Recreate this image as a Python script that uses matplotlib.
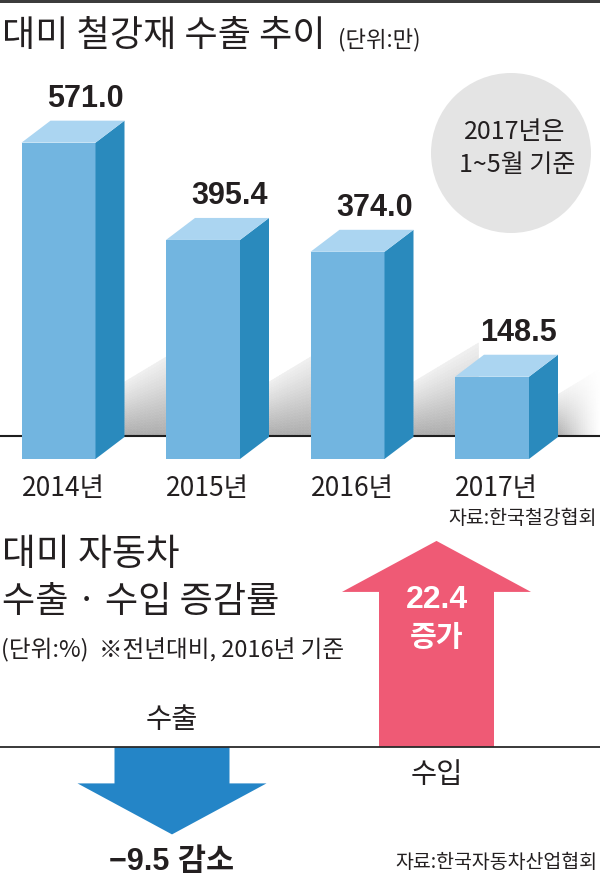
import numpy as np
import matplotlib
matplotlib.use("Agg")
import matplotlib.pyplot as plt
from matplotlib.patches import Polygon, Ellipse, Rectangle
from matplotlib.collections import PolyCollection

# 대미 철강재 수출 추이 (단위: 만 t)
years = ["2014년", "2015년", "2016년", "2017년"]
steel_exports = [571.0, 395.4, 374.0, 148.5]

# 대미 자동차 수출·수입 증감률 (단위: %)
car_labels = ["수출", "수입"]
car_changes = [-9.5, 22.4]
car_words = ["감소", "증가"]

W, H = 600, 883
KR = ["Noto Sans CJK KR", "DejaVu Sans"]
NUM = ["Liberation Sans", "Noto Sans CJK KR", "DejaVu Sans"]
INK = "#231f20"
FRONT, SIDE, TOP = "#72b5e0", "#2a8abd", "#abd5f1"
PINK, BLUE = "#ef5a75", "#2485c7"


def fx(px):
    return px / W


def fy(py):
    return 1 - py / H


def shadow(ax, sx, base, sh, sw, slope, fade):
    # soft grey floor shadow made of small quads (darker near the floor)
    ncol, nrow = 24, 24
    xs = np.linspace(sx, sx + sw, ncol + 1)
    rs = np.linspace(0, 1, nrow + 1)
    quads, cols = [], []
    for j in range(ncol):
        a, b = xs[j], xs[j + 1]
        ta = base + sh + (a - sx) * slope
        tb = base + sh + (b - sx) * slope
        u = (j + 0.5) / ncol
        for k in range(nrow):
            r0, r1 = rs[k], rs[k + 1]
            quads.append([(a, base + r0 * (ta - base)), (b, base + r0 * (tb - base)),
                          (b, base + r1 * (tb - base)), (a, base + r1 * (ta - base))])
            dark = 0.27 * (1 - (k + 0.5) / nrow) ** 1.1 + 0.06
            if fade:
                dark *= (1 - u) ** 1.3
            g = 1 - dark
            cols.append((g, g, g))
    pc = PolyCollection(quads, facecolors=cols, edgecolors=cols, linewidths=0.4,
                        zorder=1)
    ax.add_collection(pc)


def main():
    fig = plt.figure(figsize=(W / 100, H / 100), dpi=100)
    fig.patch.set_facecolor("white")

    # top border
    fig.add_artist(Rectangle((0, fy(3)), 1, 3 / H, transform=fig.transFigure,
                             color="#3c3c3c", lw=0))

    # ---------------- steel chart ----------------
    ax = fig.add_axes([0, 0, 1, 1])
    ax.axis("off")
    ky = 0.554          # px per 만 t
    zero_px = 459       # pixel row of value 0
    xstep, x0 = 144.5, 58.5

    w = 74 / xstep
    dx = 29 / xstep
    dy = 22 / ky
    base = (zero_px - 436) / ky
    slope = 0.6 * xstep / ky
    last = len(steel_exports) - 1

    for i, v in enumerate(steel_exports):
        xl, xr = i - w / 2, i + w / 2
        sh = min(54 / ky, 0.7 * (v - base))
        shadow(ax, xr + dx, base, sh, 0.45 if i < last else 0.3, slope, i == last)

        # box faces
        ax.add_patch(Polygon([(xl, 0), (xr, 0), (xr, v), (xl, v)], closed=True,
                             fc=FRONT, ec="none", zorder=3))
        ax.add_patch(Polygon([(xr, 0), (xr + dx, dy), (xr + dx, v + dy), (xr, v)],
                             closed=True, fc=SIDE, ec="none", zorder=3))
        ax.add_patch(Polygon([(xl, v), (xl + dx, v + dy), (xr + dx, v + dy), (xr, v)],
                             closed=True, fc=TOP, ec="none", zorder=3))

        ax.text(i + 27 / xstep, v + dy + 14 / ky, f"{v:.1f}", ha="center",
                va="baseline", fontsize=22, fontweight="bold", family=NUM,
                color=INK, zorder=5)
        ax.text(xl, -(496 - zero_px) / ky, years[i], ha="left", va="baseline",
                fontsize=19, family=KR, color=INK)

    ax.axhline(base, color="#1e1e1e", lw=1.5, zorder=2)
    ax.set_xlim(-x0 / xstep, (W - x0) / xstep)
    ax.set_ylim(-(H - zero_px) / ky, zero_px / ky)

    # note circle
    fig.add_artist(Ellipse((fx(511), fy(153)), 160 / W, 160 / H,
                           transform=fig.transFigure, fc="#e4e4e4", ec="none"))
    fig.text(fx(515), fy(132), "2017년은", ha="center", va="center",
             fontsize=18, family=KR, color=INK)
    fig.text(fx(517), fy(165), "1~5월 기준", ha="center", va="center",
             fontsize=18, family=KR, color=INK)

    fig.text(fx(2), fy(36), "대미 철강재 수출 추이", ha="left", va="center",
             fontsize=26, family=KR, color=INK)
    fig.text(fx(338), fy(40), "(단위:만)", ha="left", va="center",
             fontsize=16, family=KR, color=INK)
    fig.text(fx(597), fy(519), "자료:한국철강협회", ha="right", va="center",
             fontsize=14, family=KR, color=INK)

    # ---------------- car chart ----------------
    ax2 = fig.add_axes([0, 0, 1, 1])
    ax2.axis("off")
    ax2.set_facecolor("none")
    kp = 9.2            # px per %
    zero2 = 747
    xstep2, x02 = 264.5, 172
    head_w = 189 / xstep2
    shaft_w = 115 / xstep2
    head_l = 51 / kp

    for i, v in enumerate(car_changes):
        sgn = 1 if v > 0 else -1
        neck = v - sgn * head_l
        pts = [(i - shaft_w / 2, 0), (i - shaft_w / 2, neck), (i - head_w / 2, neck),
               (i, v), (i + head_w / 2, neck), (i + shaft_w / 2, neck),
               (i + shaft_w / 2, 0)]
        ax2.add_patch(Polygon(pts, closed=True, fc=PINK if v > 0 else BLUE,
                              ec="none", zorder=2))
        if v > 0:
            ax2.text(i, v - 6.4, f"{v:.1f}", ha="center", va="center",
                     fontsize=23, fontweight="bold", family=NUM, color="white",
                     zorder=4)
            ax2.text(i, v - 10.4, car_words[i], ha="center", va="center",
                     fontsize=21, fontweight="bold", family=KR, color="white",
                     zorder=4)
            ax2.text(i, -28 / kp, car_labels[i], ha="center", va="center",
                     fontsize=20.5, family=KR, color=INK)
        else:
            ax2.text(i, v - 28 / kp, f"\u2212{abs(v):.1f} {car_words[i]}",
                     ha="center", va="center", fontsize=22, fontweight="bold",
                     family=NUM, color=INK)
            ax2.text(i, 27 / kp, car_labels[i], ha="center", va="center",
                     fontsize=20.5, family=KR, color=INK)

    ax2.axhline(0, color="#2a2a2a", lw=1.3, zorder=3)
    ax2.set_xlim(-x02 / xstep2, (W - x02) / xstep2)
    ax2.set_ylim(-(H - zero2) / kp, zero2 / kp)

    fig.text(fx(2), fy(555), "대미 자동차", ha="left", va="center",
             fontsize=26.5, family=KR, color=INK)
    fig.text(fx(2), fy(602), "수출 · 수입 증감률", ha="left", va="center",
             fontsize=26, family=KR, color=INK)
    fig.text(fx(1), fy(650), "(단위:%)  ※전년대비, 2016년 기준", ha="left",
             va="center", fontsize=17, family=KR, color=INK)
    fig.text(fx(597), fy(863), "자료:한국자동차산업협회", ha="right", va="center",
             fontsize=14, family=KR, color=INK)

    fig.savefig("out.png", dpi=100, facecolor="white")


if __name__ == "__main__":
    main()
